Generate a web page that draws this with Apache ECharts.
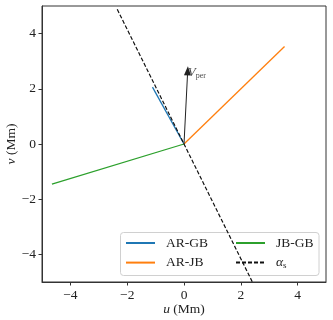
<!DOCTYPE html>
<html><head><meta charset="utf-8">
<script src="https://cdn.jsdelivr.net/npm/echarts@6/dist/echarts.min.js"></script>
<style>html,body{margin:0;padding:0;background:#fff}#c{width:333px;height:320px}</style>
</head><body><div id="c"></div>
<script>
// Data (Mm)
const arGB = [[0, 0], [-1.11, 2.06]];
const arJB = [[0, 0], [3.54, 3.53]];
const jbGB = [[0, 0], [-4.65, -1.45]];
const alphaS = [[-2.35, 4.88], [2.6, -5.4]];
const vPer = [[0, 0], [0.13, 2.65]];
const tickValues = [-4, -2, 0, 2, 4];
const axisMin = -5, axisMax = 5;

const font = 'Liberation Serif';
const fmt = v => (v < 0 ? '\u2212' + Math.abs(v) : String(v));

const chart = echarts.init(document.getElementById('c'), null, {renderer: 'canvas'});
chart.setOption({
  animation: false,
  backgroundColor: '#fff',
  textStyle: {fontFamily: font},
  grid: {left: 42, right: 7, top: 6, bottom: 38, containLabel: false, outerBoundsMode: 'none',
         show: true, borderColor: '#333', borderWidth: 1, backgroundColor: 'transparent'},
  xAxis: {
    type: 'value', min: axisMin, max: axisMax,
    splitLine: {show: false},
    axisLine: {show: true, onZero: false, lineStyle: {color: '#333'}},
    axisTick: {show: true, customValues: tickValues, length: 3.5, lineStyle: {color: '#333'}},
    axisLabel: {customValues: tickValues, formatter: fmt, color: '#222', fontFamily: font, fontSize: 13.5, margin: 6},
    name: '{i|u} (Mm)', nameLocation: 'middle', nameGap: 20, nameMoveOverlap: false,
    nameTextStyle: {color: '#222', fontFamily: font, fontSize: 13.5, rich: {i: {fontStyle: 'italic', fontFamily: font, fontSize: 13.5, color: '#222'}}}
  },
  yAxis: {
    type: 'value', min: axisMin, max: axisMax,
    splitLine: {show: false},
    axisLine: {show: true, onZero: false, lineStyle: {color: '#333'}},
    axisTick: {show: true, customValues: tickValues, length: 3.5, lineStyle: {color: '#333'}},
    axisLabel: {customValues: tickValues, formatter: fmt, color: '#222', fontFamily: font, fontSize: 13.5, margin: 6},
    name: '{i|v} (Mm)', nameLocation: 'middle', nameGap: 24, nameRotate: 90, nameMoveOverlap: false,
    nameTextStyle: {color: '#222', fontFamily: font, fontSize: 13.5, rich: {i: {fontStyle: 'italic', fontFamily: font, fontSize: 13.5, color: '#222'}}}
  },
  legend: [
    {left: 125, top: 236, orient: 'vertical', padding: 0, itemWidth: 29, itemHeight: 14, itemGap: 5.6,
     data: ['AR-GB', 'AR-JB'], itemStyle: {opacity: 0},
     textStyle: {fontFamily: font, fontSize: 13.5, color: '#222', padding: [0, 0, 0, 6]}},
    {left: 235, top: 236, orient: 'vertical', padding: 0, itemWidth: 29, itemHeight: 14, itemGap: 5.6,
     data: ['JB-GB', 'alpha_s'], itemStyle: {opacity: 0},
     formatter: n => n === 'alpha_s' ? '{i|\u03b1}{s|s}' : n,
     textStyle: {fontFamily: font, fontSize: 13.5, color: '#222', padding: [0, 0, 0, 6],
       rich: {i: {fontStyle: 'italic', fontFamily: font, fontSize: 13.5, color: '#222'},
              s: {fontFamily: font, fontSize: 9, color: '#222', padding: [6, 0, 0, 0]}}}}
  ],
  graphic: [{
    type: 'rect', z: 3, silent: true,
    shape: {x: 120.5, y: 232.5, width: 198.5, height: 43, r: 3},
    style: {fill: 'rgba(255,255,255,0.8)', stroke: '#d0d0d0', lineWidth: 1}
  }],
  series: [
    {name: 'AR-GB', type: 'line', data: arGB, symbol: 'none', clip: true, lineStyle: {color: '#1f77b4', width: 1.3}, itemStyle: {color: '#1f77b4'}},
    {name: 'AR-JB', type: 'line', data: arJB, symbol: 'none', clip: true, lineStyle: {color: '#ff7f0e', width: 1.3}, itemStyle: {color: '#ff7f0e'}},
    {name: 'JB-GB', type: 'line', data: jbGB, symbol: 'none', clip: true, lineStyle: {color: '#2ca02c', width: 1.3}, itemStyle: {color: '#2ca02c'}},
    {name: 'alpha_s', type: 'line', data: alphaS, symbol: 'none', clip: true, lineStyle: {color: '#111', width: 1.2, type: [4, 2]}, itemStyle: {color: '#111'}},
    {name: 'Vper', type: 'scatter', data: [vPer[1]], symbolSize: 0, silent: true,
     label: {show: true, position: 'right', distance: 0, offset: [0, 2],
       formatter: '{v|V}{s|per}',
       rich: {v: {fontStyle: 'italic', fontFamily: font, fontSize: 13, color: '#222'},
              s: {fontFamily: font, fontSize: 8, color: '#222', padding: [7, 0, 0, 0]}}},
     markLine: {silent: true, symbol: ['none', 'triangle'], symbolSize: [7, 9], label: {show: false},
       lineStyle: {color: '#222', width: 1, type: 'solid'},
       data: [[{coord: vPer[0]}, {coord: vPer[1]}]]}}
  ]
});
</script></body></html>
